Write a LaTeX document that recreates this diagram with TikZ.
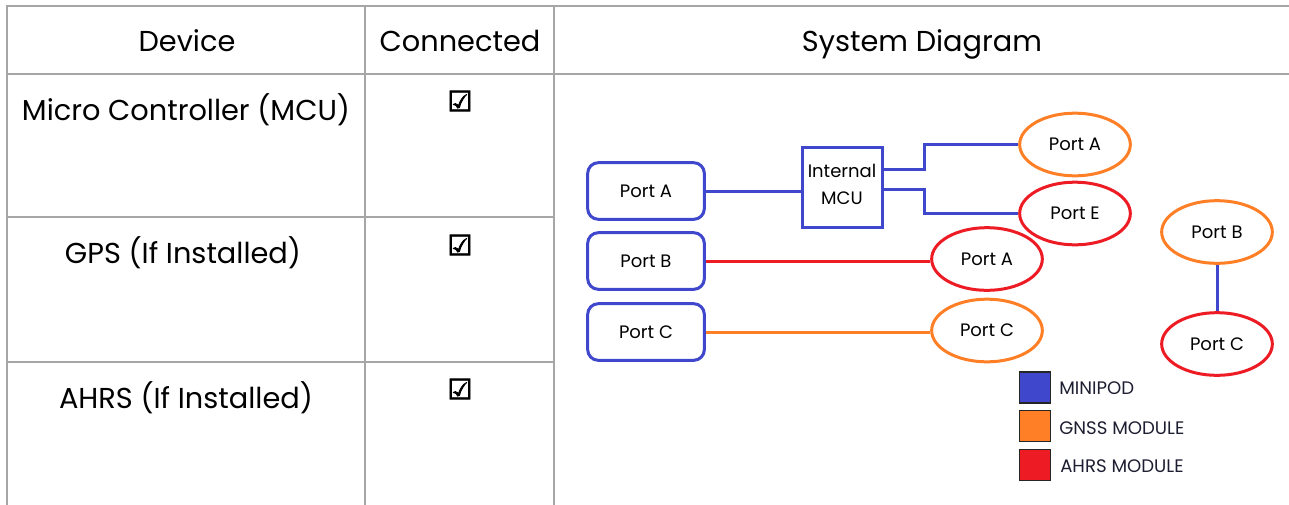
\documentclass[tikz,border=0pt]{standalone}
\usepackage{fontspec}
\setmainfont{Poppins}
\newfontfamily\symfont{DejaVu Sans}[AutoFakeBold=3]
\usetikzlibrary{shapes.geometric,calc}
\definecolor{mblue}{RGB}{63,72,204}
\definecolor{morange}{RGB}{255,127,39}
\definecolor{mred}{RGB}{237,28,36}
\definecolor{tgray}{RGB}{166,166,166}
\definecolor{legtxt}{RGB}{30,30,50}
\tikzset{
  grid line/.style={draw=tgray, line width=1.9pt},
  headtext/.style={anchor=base, inner sep=0pt, font=\fontsize{21.6pt}{26pt}\selectfont},
  celltext/.style={anchor=base, inner sep=0pt, font=\fontsize{21.6pt}{26pt}\selectfont},
  checkmark/.style={inner sep=0pt, font=\symfont\bfseries\fontsize{21pt}{24pt}\selectfont},
  portbox/.style={draw=mblue, line width=2.25pt, rounded corners=8pt, minimum width=87.5pt, minimum height=42.5pt, inner sep=0pt, font=\fontsize{13.5pt}{16pt}\selectfont},
  mcubox/.style={draw=mblue, line width=2.25pt, minimum width=60pt, minimum height=60pt, inner sep=0pt},
  mcutext/.style={inner sep=0pt, align=center, font=\fontsize{13.5pt}{20.3pt}\selectfont},
  portell/.style={ellipse, line width=2.25pt, minimum width=83pt, minimum height=47pt, inner sep=0pt, font=\fontsize{13.5pt}{16pt}\selectfont},
  wire/.style={line width=2.25pt},
  legsq/.style={draw=black!85, line width=1.1pt, minimum width=23.5pt, minimum height=23pt, inner sep=0pt},
  legtext/.style={anchor=west, inner sep=0pt, text=legtxt, font=\fontsize{13.6pt}{16pt}\selectfont},
}
\begin{document}
\begin{tikzpicture}[x=0.75pt, y=-0.75pt]
\useasboundingbox (0,0) rectangle (1289,504);
% table grid
\coordinate (tl) at (7,6);
\draw[grid line] (1292,6) -- (tl) -- (7,507);
\draw[grid line] (7,74) -- (1292,74);
\draw[grid line] (7,217) -- (554,217);
\draw[grid line] (7,362) -- (554,362);
\draw[grid line] (365,6) -- (365,507);
\draw[grid line] (554,6) -- (554,507);
% headers
\node[headtext] (h1) at (187,51) {Device};
\node[headtext] (h2) at (460,51) {Connected};
\node[headtext] (h3) at (922,51) {System Diagram};
% rows
\node[celltext] (r1) at (186,120) {Micro Controller (MCU)};
\node[celltext] (r2) at (183,263) {GPS (If Installed)};
\node[celltext] (r3) at (186,408) {AHRS (If Installed)};
\node[checkmark] (c1) at (460,101) {☑};
\node[checkmark] (c2) at (460,245) {☑};
\node[checkmark] (c3) at (460,389) {☑};
% diagram
\node[portbox] (pa) at (646,191) {Port A};
\node[portbox] (pb) at (646,261) {Port B};
\node[portbox] (pc) at (646,332) {Port C};
\node[mcubox] (mcu) at (842,187) {};
\node[mcutext] (mcut) at (842,184) {Internal\\MCU};
\node[portell, draw=morange] (oa) at (1075,144.5) {Port A};
\node[portell, draw=mred] (re) at (1075,213.5) {Port E};
\node[portell, draw=mred] (ra) at (987,259) {Port A};
\node[portell, draw=morange] (oc) at (987,330.5) {Port C};
\node[portell, draw=morange] (ob) at (1217,232) {Port B};
\node[portell, draw=mred] (rc) at (1217,344) {Port C};
\draw[wire, mblue] (pa.east) -- (pa.east -| mcu.west);
\draw[wire, mblue] ([yshift=13.5pt]mcu.east) -- ++(41,0) |- (oa.west);
\draw[wire, mblue] ([yshift=-2pt]mcu.east) -- ++(41,0) |- (re.west);
\draw[wire, mred] (pb.east) -- (pb.east -| ra.west);
\draw[wire, morange] (pc.east) -- (pc.east -| oc.west);
\draw[wire, mblue] (ob.south) -- (rc.north);
% legend
\node[legsq, fill=mblue] (l1) at (1035,387.5) {};
\node[legsq, fill=morange] (l2) at (1035,426) {};
\node[legsq, fill=mred] (l3) at (1035,465) {};
\node[legtext] (t1) at (1059,388) {MINIPOD};
\node[legtext] (t2) at (1059,428) {GNSS MODULE};
\node[legtext] (t3) at (1060,466) {AHRS MODULE};
\end{tikzpicture}
\end{document}
